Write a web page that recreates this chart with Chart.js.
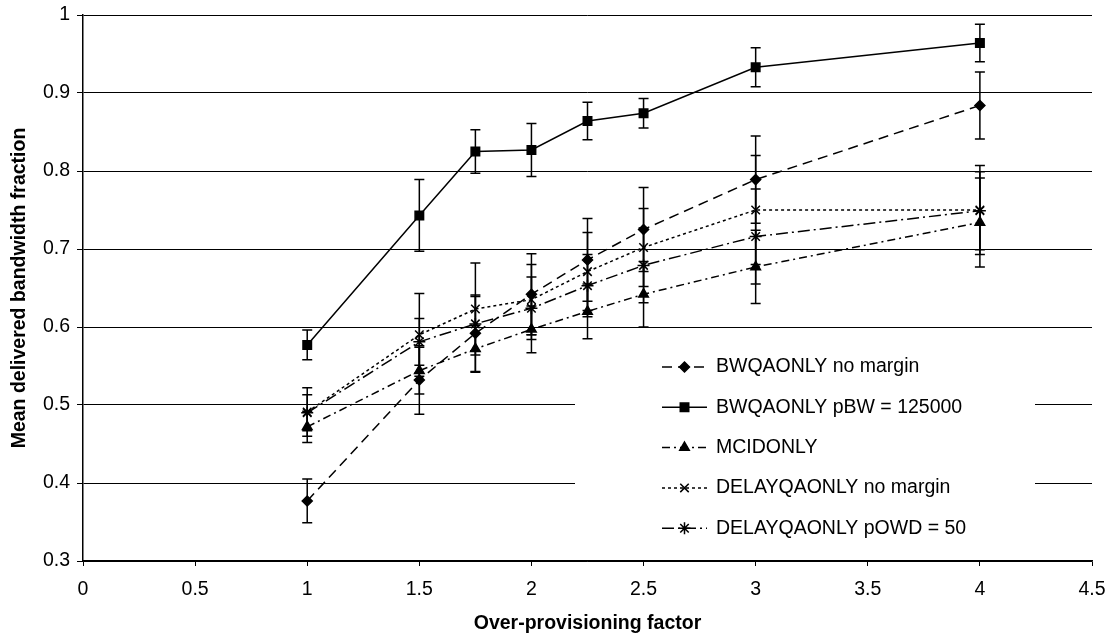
<!DOCTYPE html>
<html>
<head>
<meta charset="utf-8">
<script src="https://cdn.jsdelivr.net/npm/chart.js@4.4.1/dist/chart.umd.min.js"></script>
<style>
  body { margin: 0; background: #fff; }
  canvas { display: block; }
</style>
</head>
<body>
<canvas id="bwChart" width="1113" height="636"></canvas>
<script>
"use strict";

// Over-provisioning factors (x values)
const factors = [1, 1.5, 1.75, 2, 2.25, 2.5, 3, 4];

// Mean delivered bandwidth fraction per series
const bwNoMargin = [0.377, 0.532, 0.592, 0.642, 0.686, 0.725, 0.789, 0.884];
const bwPbw = [0.577, 0.743, 0.825, 0.827, 0.864, 0.874, 0.933, 0.964];
const mcidOnly = [0.472, 0.544, 0.572, 0.597, 0.620, 0.642, 0.677, 0.734];
const delayNoMargin = [0.491, 0.590, 0.623, 0.635, 0.671, 0.702, 0.750, 0.750];
const delayPowd = [0.490, 0.581, 0.604, 0.624, 0.653, 0.679, 0.716, 0.749];

// Error bar half widths (same order)
const bwNoMarginErr = [0.028, 0.044, 0.049, 0.052, 0.053, 0.054, 0.056, 0.043];
const bwPbwErr = [0.019, 0.046, 0.028, 0.034, 0.024, 0.019, 0.025, 0.024];
const mcidOnlyErr = [0.020, 0.030, 0.030, 0.030, 0.035, 0.042, 0.047, 0.057];
const delayNoMarginErr = [0.031, 0.053, 0.059, 0.045, 0.050, 0.050, 0.070, 0.057];
const delayPowdErr = [0.023, 0.030, 0.035, 0.040, 0.040, 0.048, 0.061, 0.050];

const seriesNames = [
  "BWQAONLY no margin",
  "BWQAONLY pBW = 125000",
  "MCIDONLY",
  "DELAYQAONLY no margin",
  "DELAYQAONLY pOWD = 50"
];

const xTicks = [0, 0.5, 1, 1.5, 2, 2.5, 3, 3.5, 4, 4.5];
const yTicks = [0.3, 0.4, 0.5, 0.6, 0.7, 0.8, 0.9, 1];

const FONT = "'Liberation Sans', Arial, sans-serif";
const FS = 19.5;

function toPoints(values) {
  return factors.map((f, i) => ({ x: f, y: values[i] }));
}

function makeSet(label, values, errs, style, dash, radius) {
  return {
    label: label,
    data: toPoints(values),
    errors: errs,
    borderColor: "#000",
    backgroundColor: "#000",
    borderWidth: 1.5,
    borderDash: dash,
    pointStyle: style,
    pointRadius: radius,
    pointHoverRadius: radius,
    pointBorderWidth: 1.5,
    pointBorderColor: "#000",
    pointBackgroundColor: "#000",
    fill: false,
    tension: 0
  };
}

// Vertical error bars with caps, drawn through the scales
const errorBars = {
  id: "errorBars",
  beforeDatasetsDraw(chart) {
    const ctx = chart.ctx;
    const xs = chart.scales.x, ys = chart.scales.y;
    ctx.save();
    ctx.strokeStyle = "#000";
    ctx.lineWidth = 1.5;
    ctx.setLineDash([]);
    chart.data.datasets.forEach(ds => {
      ds.data.forEach((p, i) => {
        const e = ds.errors[i];
        const px = xs.getPixelForValue(p.x);
        const top = ys.getPixelForValue(p.y + e);
        const bot = ys.getPixelForValue(p.y - e);
        ctx.beginPath();
        ctx.moveTo(px, top); ctx.lineTo(px, bot);
        ctx.moveTo(px - 5, top); ctx.lineTo(px + 5, top);
        ctx.moveTo(px - 5, bot); ctx.lineTo(px + 5, bot);
        ctx.stroke();
      });
    });
    ctx.restore();
  }
};

// Legend box inside the plot, like the original
const boxLegend = {
  id: "boxLegend",
  afterDraw(chart) {
    const ctx = chart.ctx;
    const bx = 575, by = 345, bw = 460, bh = 205;
    ctx.save();
    ctx.fillStyle = "#fff";
    ctx.fillRect(bx, by, bw, bh);
    chart.data.datasets.forEach((ds, i) => {
      const y = 367 + i * 40.3;
      ctx.strokeStyle = "#000";
      ctx.fillStyle = "#000";
      ctx.lineWidth = 1.5;
      ctx.setLineDash(ds.borderDash);
      ctx.beginPath();
      ctx.moveTo(662, y); ctx.lineTo(707, y);
      ctx.stroke();
      ctx.setLineDash([]);
      Chart.helpers.drawPoint(ctx, {
        pointStyle: ds.pointStyle,
        radius: ds.pointRadius,
        borderWidth: 1.5
      }, 684.5, y);
      ctx.font = FS + "px " + FONT;
      ctx.textBaseline = "middle";
      ctx.textAlign = "left";
      ctx.fillText(ds.label, 716, y);
    });
    ctx.restore();
  }
};

const chart = new Chart(document.getElementById("bwChart").getContext("2d"), {
  type: "line",
  data: {
    datasets: [
      makeSet(seriesNames[0], bwNoMargin, bwNoMarginErr, "rectRot", [10, 6], 5),
      makeSet(seriesNames[1], bwPbw, bwPbwErr, "rect", [], 6),
      makeSet(seriesNames[2], mcidOnly, mcidOnlyErr, "triangle", [8, 4, 2, 4], 5.5),
      makeSet(seriesNames[3], delayNoMargin, delayNoMarginErr, "crossRot", [3, 3], 6),
      makeSet(seriesNames[4], delayPowd, delayPowdErr, "star", [12, 4, 2, 4], 6)
    ]
  },
  options: {
    responsive: false,
    animation: false,
    layout: { padding: { top: 15, right: 21, left: 0, bottom: 0 } },
    plugins: {
      legend: { display: false },
      tooltip: { enabled: false }
    },
    scales: {
      x: {
        type: "linear",
        min: 0,
        max: 4.5,
        afterBuildTicks: axis => { axis.ticks = xTicks.map(v => ({ value: v })); },
        afterFit: axis => {
          axis.height = 75;
          axis.paddingLeft = 0;
          axis.paddingRight = 0;
        },
        grid: { drawOnChartArea: false, drawTicks: true, tickLength: 5, color: "#000" },
        border: { color: "#000", width: 1.5 },
        ticks: {
          color: "#000",
          font: { family: FONT, size: FS },
          padding: 12,
          maxRotation: 0,
          callback: v => String(v)
        },
        title: {
          display: true,
          text: "Over-provisioning factor",
          color: "#000",
          font: { family: FONT, size: FS, weight: "bold" },
          padding: { top: 0, bottom: 1 }
        }
      },
      y: {
        type: "linear",
        min: 0.3,
        max: 1,
        afterBuildTicks: axis => { axis.ticks = yTicks.map(v => ({ value: v })); },
        afterFit: axis => {
          axis.width = 83;
          axis.paddingTop = 0;
          axis.paddingBottom = 0;
        },
        grid: { color: "#000", lineWidth: 1, tickLength: 6 },
        border: { color: "#000", width: 1.5 },
        ticks: {
          color: "#000",
          font: { family: FONT, size: FS },
          padding: 7,
          callback: v => String(Number(v.toFixed(1)))
        },
        title: {
          display: true,
          text: "Mean delivered bandwidth fraction",
          color: "#000",
          font: { family: FONT, size: FS, weight: "bold" },
          padding: { top: 8, bottom: 0 }
        }
      }
    }
  },
  plugins: [errorBars, boxLegend]
});
</script>
</body>
</html>
